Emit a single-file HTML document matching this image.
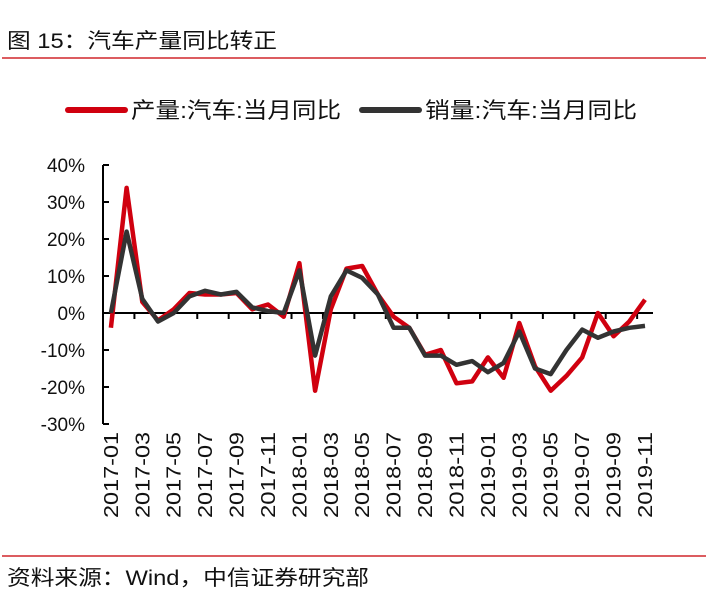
<!DOCTYPE html>
<html><head><meta charset="utf-8"><style>
html,body{margin:0;padding:0;background:#fff;}
svg{display:block;font-family:"Liberation Sans","Noto Sans CJK SC",sans-serif;}
</style></head><body>
<svg width="708" height="604" viewBox="0 0 708 604" xmlns="http://www.w3.org/2000/svg">
<text x="7" y="48" font-size="21" fill="#111" textLength="270" lengthAdjust="spacingAndGlyphs">图 15：汽车产量同比转正</text>
<line x1="2" y1="58" x2="706" y2="58" stroke="#d0262c" stroke-width="1.5"/>
<line x1="68" y1="110" x2="125" y2="110" stroke="#d0000f" stroke-width="6" stroke-linecap="round"/>
<text x="131" y="118" font-size="22" fill="#111" textLength="210" lengthAdjust="spacingAndGlyphs">产量:汽车:当月同比</text>
<line x1="362" y1="110" x2="419" y2="110" stroke="#333" stroke-width="6" stroke-linecap="round"/>
<text x="425" y="118" font-size="22" fill="#111" textLength="212" lengthAdjust="spacingAndGlyphs">销量:汽车:当月同比</text>
<g font-size="19" fill="#111" text-anchor="end">
<text x="85" y="172">40%</text><text x="85" y="209">30%</text><text x="85" y="246">20%</text>
<text x="85" y="283">10%</text><text x="85" y="320">0%</text><text x="85" y="357">-10%</text>
<text x="85" y="394">-20%</text><text x="85" y="431">-30%</text>
</g>
<g stroke="#000" stroke-width="2">
<line x1="103" y1="165" x2="103" y2="424"/>
<line x1="103" y1="165" x2="109" y2="165"/><line x1="103" y1="202" x2="109" y2="202"/>
<line x1="103" y1="239" x2="109" y2="239"/><line x1="103" y1="276" x2="109" y2="276"/>
<line x1="103" y1="350" x2="109" y2="350"/><line x1="103" y1="387" x2="109" y2="387"/>
<line x1="103" y1="424" x2="109" y2="424"/>
<line x1="103" y1="313" x2="653" y2="313"/>
</g>
<g id="ticks" stroke="#000" stroke-width="2"></g>
<polyline id="red" fill="none" stroke="#d0000f" stroke-width="4.5" stroke-linejoin="round"/>
<polyline id="blk" fill="none" stroke="#333" stroke-width="4.5" stroke-linejoin="round"/>
<g id="xl" font-size="20" fill="#111" text-anchor="end"></g>
<line x1="2" y1="556" x2="706" y2="556" stroke="#d0262c" stroke-width="1.5"/>
<text x="7" y="585" font-size="21" fill="#111" textLength="362" lengthAdjust="spacingAndGlyphs">资料来源：Wind，中信证券研究部</text>
<script>
var red=[-4,33.8,3,-2,1,5.4,5,5,5.4,1,2.3,-1,13.5,-21,1,12,12.7,5,-1,-4,-11.3,-10,-19,-18.5,-12,-17.5,-2.7,-14.4,-21,-17,-12,0,-6.3,-2.3,3.6];
var blk=[0,22,3.8,-2.3,0,4.5,6,5,5.7,1.5,0.5,0,11.5,-11.5,4.5,11.5,9.5,5,-4,-4,-11.5,-11.5,-14,-13,-16,-13.5,-5,-15,-16.5,-10,-4.5,-6.7,-5,-4,-3.5];
function X(i){return 103+15.71*(i+0.5);}function Y(v){return 313-3.7*v;}
function pts(a){return a.map(function(v,i){return X(i).toFixed(1)+","+Y(v).toFixed(1)}).join(" ");}
document.getElementById('red').setAttribute('points',pts(red));
document.getElementById('blk').setAttribute('points',pts(blk));
var ns="http://www.w3.org/2000/svg",t=document.getElementById('ticks'),xl=document.getElementById('xl');
for(var k=2;k<=35;k+=2){var l=document.createElementNS(ns,'line');var x=103+15.71*k;l.setAttribute('x1',x);l.setAttribute('x2',x);l.setAttribute('y1',313);l.setAttribute('y2',319);t.appendChild(l);}
for(var i=0;i<35;i+=2){var y=2017+Math.floor(i/12),m=i%12+1;var s=y+"-"+(m<10?"0":"")+m;var e=document.createElementNS(ns,'text');var x=X(i)+7;e.setAttribute('transform','translate('+x+',432) rotate(-90)');e.setAttribute('textLength','86');e.setAttribute('lengthAdjust','spacingAndGlyphs');e.textContent=s;xl.appendChild(e);}
</script>
</svg>
</body></html>
